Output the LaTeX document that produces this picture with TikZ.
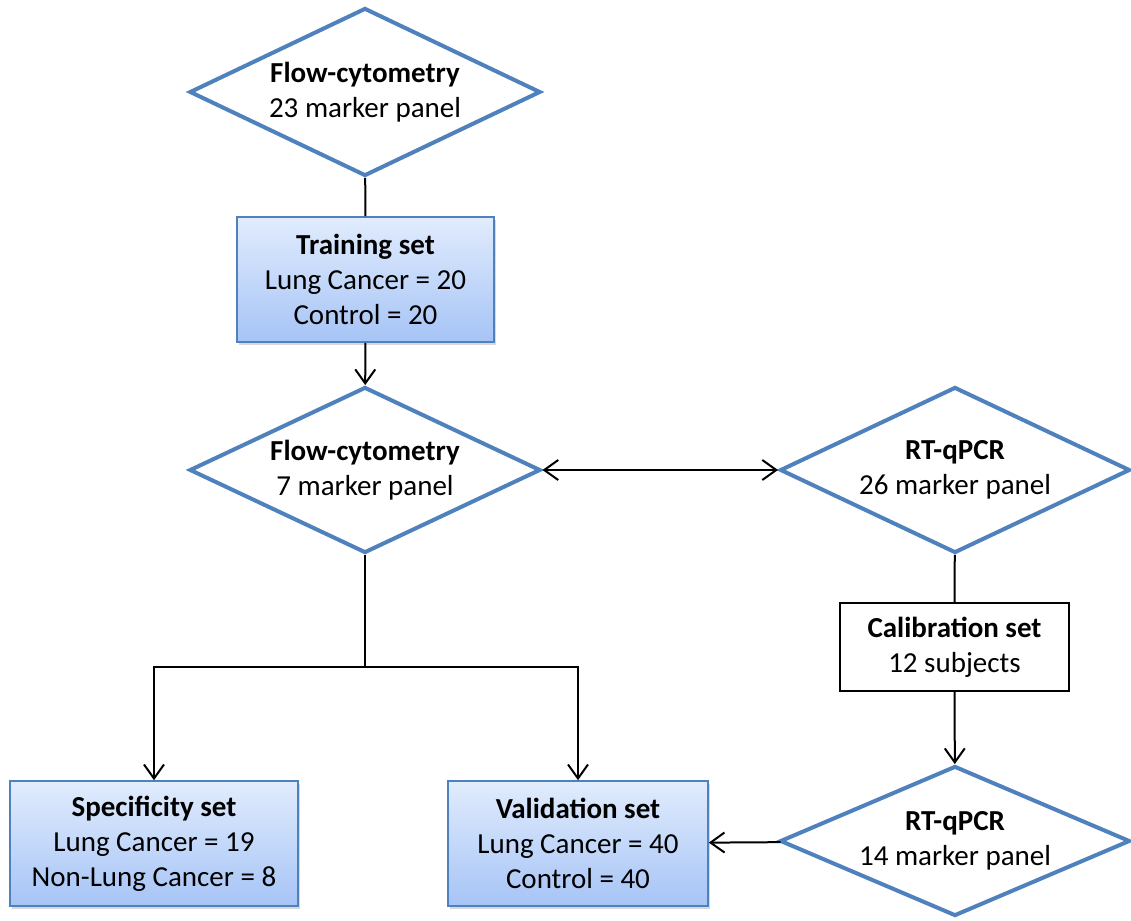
\documentclass[tikz,border=0pt]{standalone}
\usepackage{fontspec}
\setmainfont{Carlito}
\usetikzlibrary{shapes.geometric,arrows.meta,shadows}
\definecolor{officeblue}{RGB}{79,129,189}
\definecolor{boxtop}{RGB}{225,236,253}
\definecolor{boxbottom}{RGB}{166,196,246}
\tikzset{
  panel/.style={diamond, aspect=2.1, draw=officeblue, line width=2pt, fill=white, inner sep=0pt, align=center},
  setbox/.style={rectangle, draw=officeblue, line width=0.8pt, top color=boxtop, bottom color=boxbottom,
    align=center, inner sep=0pt,
    drop shadow={shadow xshift=1pt, shadow yshift=-1.5pt, opacity=0.3}},
  plainbox/.style={rectangle, draw=black, line width=1pt, fill=white, align=center, inner sep=0pt},
  link/.style={line width=1pt},
  every node/.style={font=\fontsize{14.5}{17.5}\selectfont}
}
\begin{document}
\begin{tikzpicture}[x=0.5pt, y=-0.5pt]
      \useasboundingbox (0,0) rectangle (1131,921);
      \draw
        (365,92) node[panel, minimum width=175.5pt, minimum height=84pt] (fcA){\textbf{Flow-cytometry}\\23 marker panel}
        (365.5,279.5) node[setbox, minimum width=128.5pt, minimum height=62.5pt] (train){\textbf{Training set}\\Lung Cancer = 20\\Control = 20}
        (365,470) node[panel, minimum width=175.5pt, minimum height=83pt] (fcB){\textbf{Flow-cytometry}\\7 marker panel}
        (955,470) node[panel, minimum width=175pt, minimum height=83pt] (pcrA){\textbf{RT-qPCR}\\26 marker panel}
        (954.5,647) node[plainbox, minimum width=114.5pt, minimum height=44pt] (calib){\textbf{Calibration set}\\12 subjects}
        (955,841) node[panel, aspect=2.35, minimum width=175pt, minimum height=75pt] (pcrB){\textbf{RT-qPCR}\\14 marker panel}
        (154,843.5) node[setbox, minimum width=144pt, minimum height=62.5pt] (spec){\textbf{Specificity set}\\Lung Cancer = 19\\Non-Lung Cancer = 8}
        (578,843.5) node[setbox, minimum width=130pt, minimum height=62.5pt] (valid){\textbf{Validation set}\\Lung Cancer = 40\\Control = 40};
      \coordinate (split) at (365,667);
      \begin{scope}[link]
        \draw (fcA) to (train);
        \draw (pcrA) to (calib);
        \draw (fcB) to (split);
      \end{scope}
      \begin{scope}[link, >={Straight Barb[length=7pt,width=10pt]}]
        \draw[->] (train) to (fcB);
        \draw[->] (calib) to (pcrB);
        \draw[->] (pcrB) to (valid);
        \draw[->] (split) -| (spec);
        \draw[->] (split) -| (valid);
        \draw[<->] (fcB) to (pcrA);
      \end{scope}
    \end{tikzpicture}
\end{document}
